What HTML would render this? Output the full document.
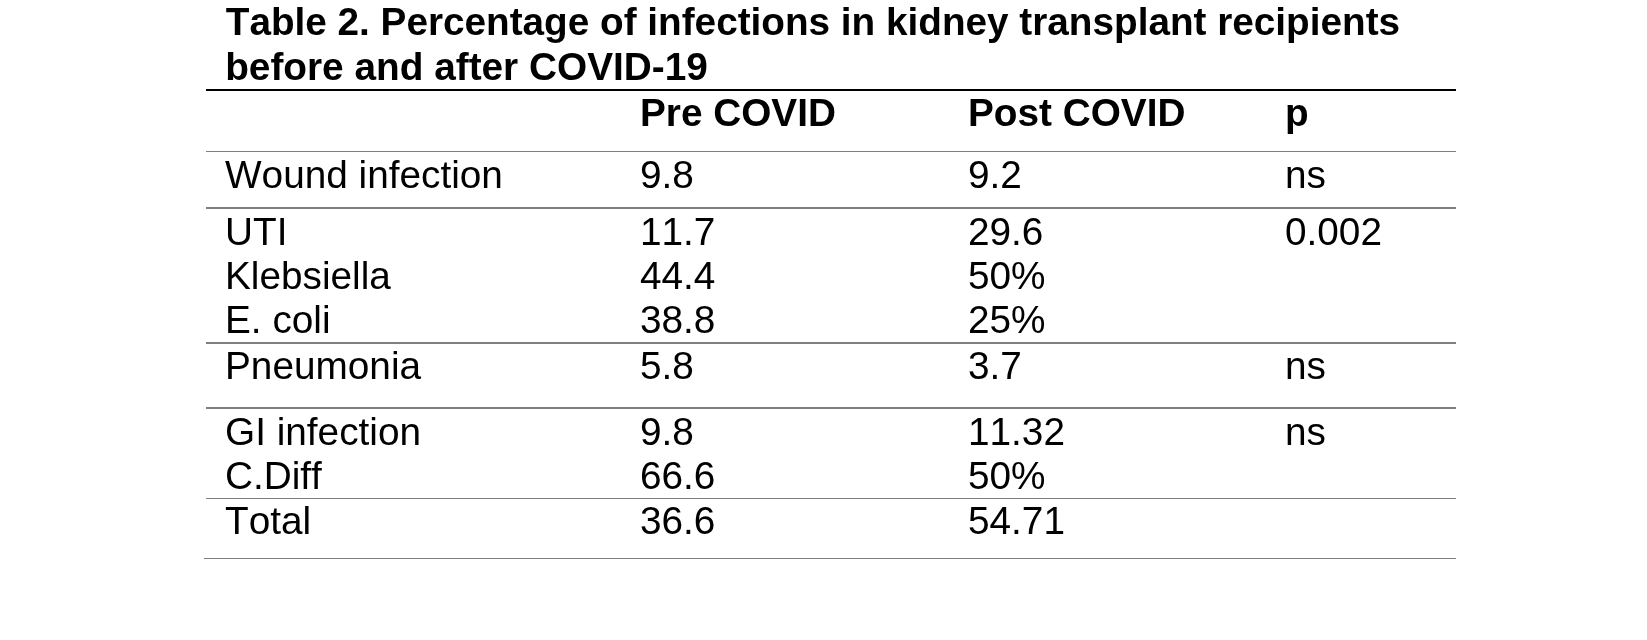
<!DOCTYPE html>
<html lang="en">
<head>
<meta charset="utf-8">
<title>Table 2</title>
<style>
html,body{margin:0;padding:0;background:#fff;}
body{width:1647px;height:640px;position:relative;overflow:hidden;font-family:"Liberation Sans",sans-serif;color:#000;}
#page{position:absolute;left:0;top:0;width:1647px;height:640px;background:#fff;overflow:hidden;transform:translateZ(0);will-change:transform;filter:grayscale(1);}
.t{position:absolute;white-space:nowrap;font-kerning:none;font-variant-ligatures:none;font-size:38.75px;line-height:43px;height:43px;}
.b{font-weight:bold;}
.l{position:absolute;}
</style>
</head>
<body>
<div id="page">
<div class="t b" style="font-size:38.71px;left:225.75px;top:0px">Table 2. Percentage of infections in kidney transplant recipients</div>
<div class="t b" style="font-size:38.79px;left:225.15px;top:45px">before and after COVID-19</div>
<div class="l" style="left:206px;top:89px;width:1250px;height:2px;background:#000000"></div>
<div class="l" style="left:206px;top:151px;width:1250px;height:1px;background:#7f7f7f"></div>
<div class="l" style="left:206px;top:207px;width:1250px;height:2px;background:#7f7f7f"></div>
<div class="l" style="left:206px;top:342px;width:1250px;height:2px;background:#7f7f7f"></div>
<div class="l" style="left:206px;top:407px;width:1250px;height:2px;background:#7f7f7f"></div>
<div class="l" style="left:206px;top:498px;width:1250px;height:1px;background:#7f7f7f"></div>
<div class="l" style="left:204px;top:558px;width:1252px;height:1px;background:#7f7f7f"></div>
<div class="t b" style="left:640.00px;top:91px">Pre COVID</div>
<div class="t b" style="left:968.00px;top:91px">Post COVID</div>
<div class="t b" style="left:1285.00px;top:91px">p</div>
<div class="t" style="left:225.00px;top:153px">Wound infection</div>
<div class="t" style="left:640.00px;top:153px">9.8</div>
<div class="t" style="left:968.00px;top:153px">9.2</div>
<div class="t" style="left:1285.00px;top:153px">ns</div>
<div class="t" style="left:225.00px;top:210px">UTI</div>
<div class="t" style="left:640.00px;top:210px">11.7</div>
<div class="t" style="left:968.00px;top:210px">29.6</div>
<div class="t" style="left:1285.00px;top:210px">0.002</div>
<div class="t" style="left:225.00px;top:254px">Klebsiella</div>
<div class="t" style="left:640.00px;top:254px">44.4</div>
<div class="t" style="left:968.00px;top:254px">50%</div>
<div class="t" style="left:225.00px;top:298px">E. coli</div>
<div class="t" style="left:640.00px;top:298px">38.8</div>
<div class="t" style="left:968.00px;top:298px">25%</div>
<div class="t" style="left:225.00px;top:344px">Pneumonia</div>
<div class="t" style="left:640.00px;top:344px">5.8</div>
<div class="t" style="left:968.00px;top:344px">3.7</div>
<div class="t" style="left:1285.00px;top:344px">ns</div>
<div class="t" style="left:225.00px;top:410px">GI infection</div>
<div class="t" style="left:640.00px;top:410px">9.8</div>
<div class="t" style="left:968.00px;top:410px">11.32</div>
<div class="t" style="left:1285.00px;top:410px">ns</div>
<div class="t" style="left:225.00px;top:454px">C.Diff</div>
<div class="t" style="left:640.00px;top:454px">66.6</div>
<div class="t" style="left:968.00px;top:454px">50%</div>
<div class="t" style="left:225.00px;top:499px">Total</div>
<div class="t" style="left:640.00px;top:499px">36.6</div>
<div class="t" style="left:968.00px;top:499px">54.71</div>
</div>
</body>
</html>
